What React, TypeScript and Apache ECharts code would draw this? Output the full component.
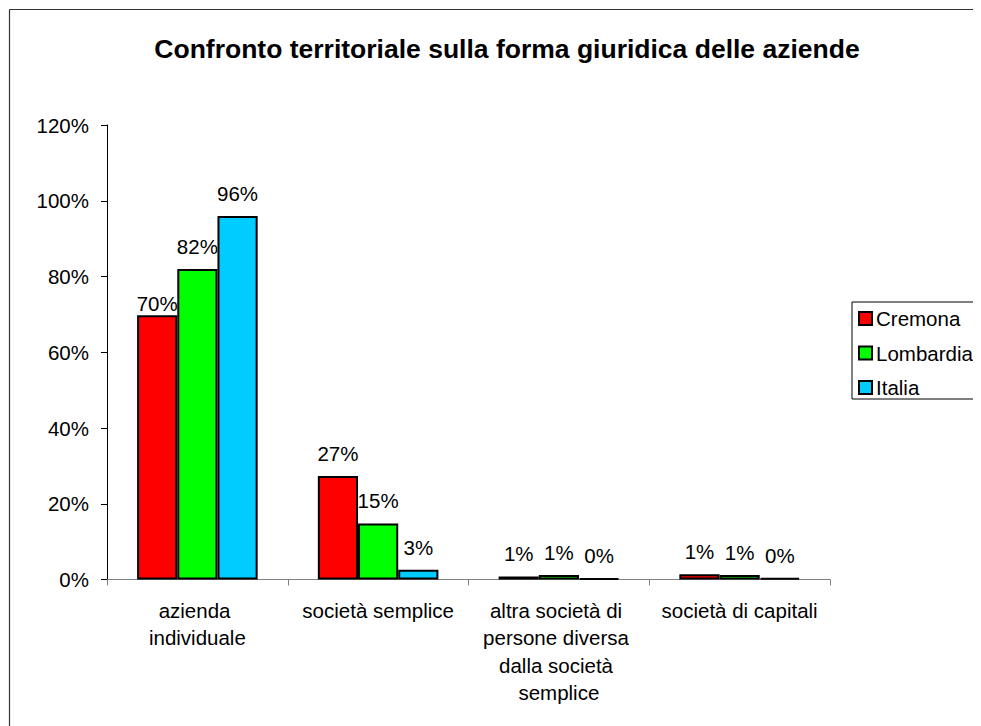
import React, { useEffect, useRef } from "react";
import * as echarts from "echarts";

const titleText = "Confronto territoriale sulla forma giuridica delle aziende";
const categories = [
  "azienda individuale",
  "società semplice",
  "altra società di persone diversa dalla società semplice",
  "società di capitali",
];
const seriesNames = ["Cremona", "Lombardia", "Italia"];
const cremona = [69.8, 27.3, 0.8, 1.4];
const lombardia = [82.0, 14.8, 1.2, 1.2];
const italia = [96.0, 2.6, 0.3, 0.4];
const colors = ["#FF0000", "#00FF00", "#00CCFF"];
const yTicks = { min: 0, max: 120, interval: 20 };

const FONT = "'Liberation Sans', Arial, Helvetica, sans-serif";
const FS = 20.5;

export default function App() {
  const ref = useRef<HTMLDivElement>(null);
  useEffect(() => {
    document.body.style.overflow = "hidden";
    document.documentElement.style.overflow = "hidden";
    if (!ref.current) return;
    const chart = echarts.init(ref.current, null, { renderer: "svg" });
    const values = [cremona, lombardia, italia];
    const series = seriesNames.map((name, si) => ({
      name,
      type: "bar",
      barGap: "0%",
      barCategoryGap: "33.3%",
      itemStyle: { color: colors[si], borderColor: "#000", borderWidth: 2 },
      label: {
        show: true,
        position: "top",
        distance: 12,
        color: "#000",
        fontFamily: FONT,
        fontSize: FS,
        formatter: (p: any) => Math.round(p.value) + "%",
      },
      data: values[si].map((v, i) =>
        si === 0 && i === 0 ? { value: v, label: { distance: 1 } } : v
      ),
    }));
    chart.setOption({
      animation: false,
      backgroundColor: "#fff",
      textStyle: { fontFamily: FONT },
      title: {
        text: titleText,
        left: 494,
        textAlign: "center",
        top: 22,
        textStyle: { fontFamily: FONT, fontSize: 26.5, fontWeight: "bold", color: "#000" },
      },
      legend: {
        orient: "vertical",
        left: 844,
        top: 294,
        padding: [6, 60, 1, 6],
        itemGap: 13.5,
        itemWidth: 13,
        itemHeight: 13,
        icon: "rect",
        borderColor: "#000",
        borderWidth: 1,
        textStyle: { fontFamily: FONT, fontSize: FS, color: "#000", lineHeight: 18, padding: [0, 0, 0, -1] },
        itemStyle: { borderColor: "#000", borderWidth: 2 },
        data: seriesNames,
      },
      grid: { left: 99, right: 178, top: 117, bottom: 168.5, containLabel: false },
      xAxis: {
        type: "category",
        data: categories,
        axisLine: { lineStyle: { color: "#808080", width: 1 } },
        axisTick: { show: true, length: 6, lineStyle: { color: "#808080" } },
        axisLabel: {
          interval: 0,
          margin: 17,
          color: "#000",
          fontFamily: FONT,
          fontSize: FS,
          lineHeight: 27.5,
          width: 172,
          overflow: "break",
          align: "center",
        },
      },
      yAxis: {
        type: "value",
        min: yTicks.min,
        max: yTicks.max,
        interval: yTicks.interval,
        splitLine: { show: false },
        axisLine: { show: true, lineStyle: { color: "#000", width: 1 } },
        axisTick: { show: true, length: 6, lineStyle: { color: "#000" } },
        axisLabel: {
          margin: 18,
          color: "#000",
          fontFamily: FONT,
          fontSize: FS,
          formatter: "{value}%",
        },
      },
      graphic: [
        {
          type: "line",
          shape: { x1: 1.5, y1: 1.5, x2: 1000, y2: 1.5 },
          style: { stroke: "#333", lineWidth: 1.2 },
          silent: true,
          z: 100,
        },
        {
          type: "line",
          shape: { x1: 1.5, y1: 1.5, x2: 1.5, y2: 740 },
          style: { stroke: "#333", lineWidth: 1.2 },
          silent: true,
          z: 100,
        },
      ],
      series,
    });
    return () => chart.dispose();
  }, []);
  return <div ref={ref} style={{ width: 1000, height: 740 }} />;
}
